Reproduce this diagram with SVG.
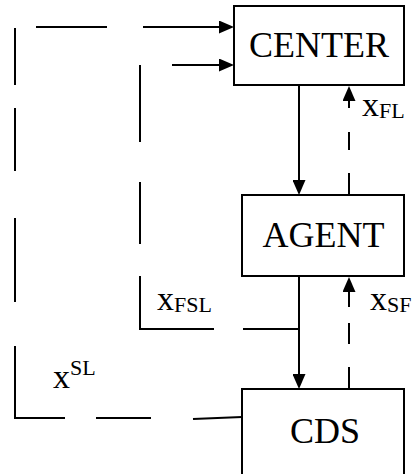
<svg xmlns="http://www.w3.org/2000/svg" width="414" height="474" viewBox="0 0 414 474">
<style>
.box{fill:#fff;stroke:#000;stroke-width:2}
.ln{stroke:#000;stroke-width:2;fill:none}
.t{font-family:"Liberation Serif","Times New Roman",serif;fill:#000}
.big{font-size:36px}
.lx{font-size:34px}
.ls{font-size:22px}
</style>
<defs>
<marker id="ah" viewBox="0 0 15 13" refX="0" refY="6.5" markerWidth="15" markerHeight="13" markerUnits="userSpaceOnUse" orient="auto">
<path d="M0,0 L15,6.5 L0,13 z" fill="#000"/>
</marker>
</defs>
<rect width="414" height="474" fill="#fff"/>
<g id="connectors">
<!-- outer loop x^SL -->
<path class="ln" d="M15,346 V418 H65"/>
<path class="ln" d="M96,418 H151"/>
<path class="ln" d="M193,419 L242,417"/>
<path class="ln" d="M15,218 V302"/>
<path class="ln" d="M15,108 V171"/>
<path class="ln" d="M15,28 V85"/>
<path class="ln" d="M36,27 H107"/>
<path class="ln" d="M143,27 H219" marker-end="url(#ah)"/>
<!-- inner loop x_FSL -->
<path class="ln" d="M140,65 V142"/>
<path class="ln" d="M140,182 V244"/>
<path class="ln" d="M140,276 V329 H214"/>
<path class="ln" d="M243,329 H299"/>
<path class="ln" d="M172,65 H219" marker-end="url(#ah)"/>
<!-- main flow -->
<path class="ln" d="M299,85 V180" marker-end="url(#ah)"/>
<path class="ln" d="M299,276 V374" marker-end="url(#ah)"/>
<!-- CDS to AGENT x_SF -->
<path class="ln" d="M349,367 V389"/>
<path class="ln" d="M349,323 V344"/>
<path class="ln" d="M349,307 V292" marker-end="url(#ah)"/>
<!-- AGENT to CENTER x_FL -->
<path class="ln" d="M349,173 V195"/>
<path class="ln" d="M349,132 V150"/>
<path class="ln" d="M349,108 V101" marker-end="url(#ah)"/>
</g>
<g id="center">
<rect class="box" x="234" y="6" width="170" height="79"/>
<text class="t big" x="319" y="57" text-anchor="middle">CENTER</text>
</g>
<g id="agent">
<rect class="box" x="242" y="195" width="162" height="81"/>
<text class="t big" x="323.5" y="247" text-anchor="middle">AGENT</text>
</g>
<g id="cds">
<rect class="box" x="242" y="389" width="162" height="95"/>
<text class="t big" x="325" y="443" text-anchor="middle">CDS</text>
</g>
<g id="labels">
<text class="t" x="362" y="116"><tspan class="lx">x</tspan><tspan class="ls" dy="2">FL</tspan></text>
<text class="t" x="370" y="310"><tspan class="lx">x</tspan><tspan class="ls" dy="2">SF</tspan></text>
<text class="t" x="157" y="310"><tspan class="lx">x</tspan><tspan class="ls" dy="2">FSL</tspan></text>
<text class="t" x="53" y="388"><tspan class="lx">x</tspan><tspan class="ls" dy="-13">SL</tspan></text>
</g>
</svg>
